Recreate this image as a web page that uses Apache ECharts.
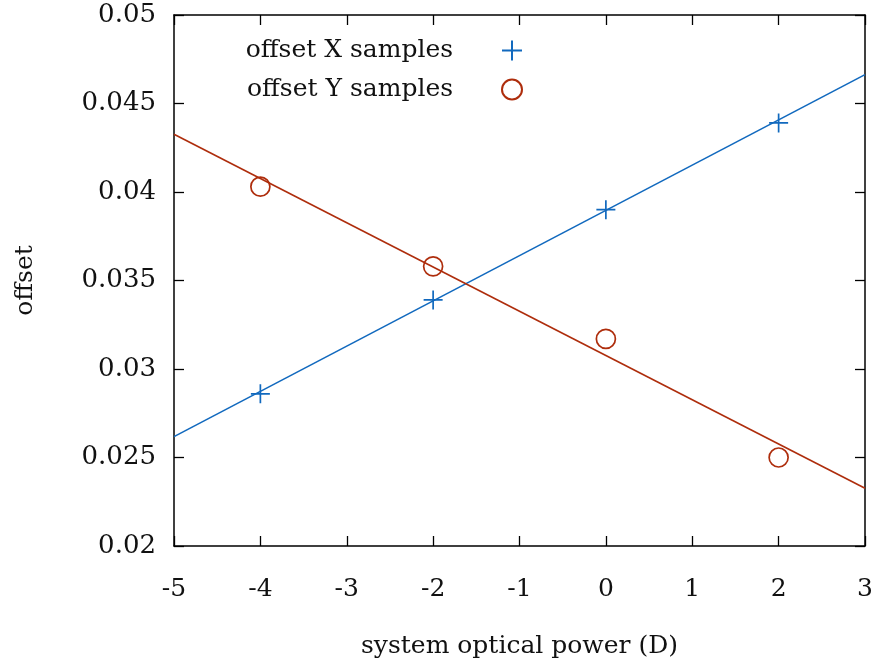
<!DOCTYPE html>
<html><head><meta charset="utf-8">
<script src="https://cdn.jsdelivr.net/npm/echarts@6/dist/echarts.min.js"></script>
<style>html,body{margin:0;padding:0;background:#fff}#c{width:880px;height:664px}</style>
</head><body><div id="c"></div>
<script>
const seriesNames = ['offset X samples', 'offset Y samples'];
const powerX = [-4, -2, 0, 2];
const offsetX = [0.0286, 0.0339, 0.0390, 0.0439];
const offsetY = [0.0403, 0.0358, 0.0317, 0.0250];
const fitXEnds = [[-5, 0.02618], [3, 0.04663]];
const fitYEnds = [[-5, 0.04326], [3, 0.02326]];
const xTicks = [-5, 3, 1];
const yTicks = [0.02, 0.05, 0.005];

const blue = '#1169be', red = '#ae2d0c';
const font = '"DejaVu Serif", "Liberation Serif", serif';
const plus = 'path://M0,10L20,10M10,0L10,20';

const chart = echarts.init(document.getElementById('c'), null, {renderer: 'canvas'});
const tickStyle = {show: true, inside: true, length: 10, lineStyle: {color: '#000', width: 1.3}};
const lineStyle = {show: true, onZero: false, lineStyle: {color: '#000', width: 1.5}};
chart.setOption({
  animation: false,
  textStyle: {fontFamily: font},
  grid: {left: 174, right: 15, top: 15, bottom: 115},
  legend: [
    {data: [seriesNames[0]], orient: 'vertical', align: 'right', right: 352, top: 33,
     itemWidth: 20, itemHeight: 20,
     textStyle: {fontFamily: font, fontSize: 25, color: '#111', padding: [0, 44, 0, 0]}},
    {data: [seriesNames[1]], orient: 'vertical', align: 'right', right: 352, top: 72,
     itemWidth: 20, itemHeight: 20,
     textStyle: {fontFamily: font, fontSize: 25, color: '#111', padding: [0, 44, 0, 0]}}
  ],
  xAxis: [
    {type: 'value', min: xTicks[0], max: xTicks[1], interval: xTicks[2], position: 'bottom',
     axisLine: lineStyle, axisTick: tickStyle, splitLine: {show: false},
     axisLabel: {fontFamily: font, fontSize: 25, color: '#111', margin: 31},
     name: 'system optical power (D)', nameLocation: 'middle', nameGap: 88,
     nameTextStyle: {fontFamily: font, fontSize: 25, color: '#111'}},
    {type: 'value', min: xTicks[0], max: xTicks[1], interval: xTicks[2], position: 'top',
     axisLine: lineStyle, axisTick: tickStyle, splitLine: {show: false}, axisLabel: {show: false}}
  ],
  yAxis: [
    {type: 'value', min: yTicks[0], max: yTicks[1], interval: yTicks[2], position: 'left',
     axisLine: lineStyle, axisTick: tickStyle, splitLine: {show: false},
     axisLabel: {fontFamily: font, fontSize: 26, color: '#111', margin: 18},
     name: 'offset', nameLocation: 'middle', nameGap: 136, nameRotate: 90,
     nameTextStyle: {fontFamily: font, fontSize: 25, color: '#111'}},
    {type: 'value', min: yTicks[0], max: yTicks[1], interval: yTicks[2], position: 'right',
     axisLine: lineStyle, axisTick: tickStyle, splitLine: {show: false}, axisLabel: {show: false}}
  ],
  series: [
    {type: 'line', data: fitXEnds, showSymbol: false, symbol: 'none', lineStyle: {color: blue, width: 1.6}, z: 2, silent: true},
    {type: 'line', data: fitYEnds, showSymbol: false, symbol: 'none', lineStyle: {color: red, width: 1.6}, z: 2, silent: true},
    {name: seriesNames[0], type: 'scatter', data: powerX.map((p, i) => [p, offsetX[i]]),
     symbol: plus, symbolSize: 19, itemStyle: {color: 'rgba(0,0,0,0)', borderColor: blue, borderWidth: 1.7, opacity: 1}, z: 3},
    {name: seriesNames[1], type: 'scatter', data: powerX.map((p, i) => [p, offsetY[i]]),
     symbol: 'circle', symbolSize: 19, itemStyle: {color: 'rgba(0,0,0,0)', borderColor: red, borderWidth: 1.7, opacity: 1}, z: 3}
  ]
});
</script></body></html>
